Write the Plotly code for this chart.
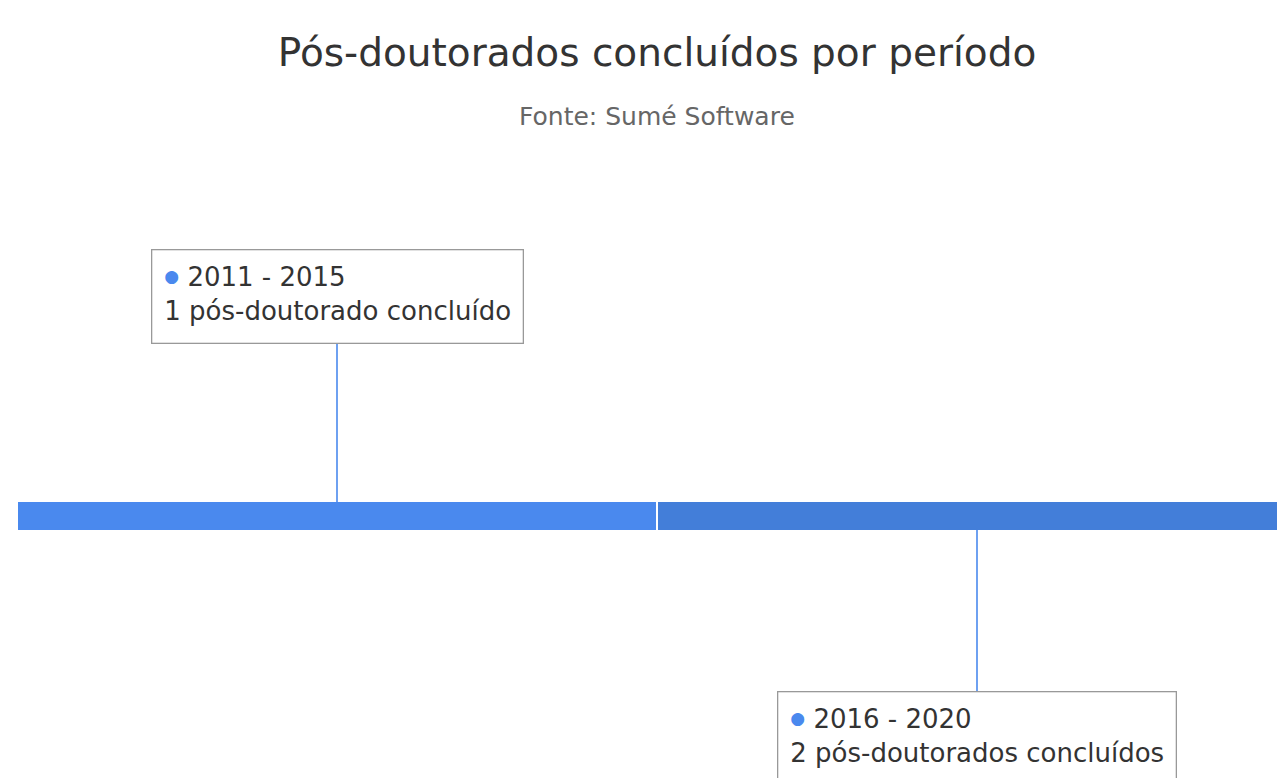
import plotly.graph_objects as go

periods = ["2011 - 2015", "2016 - 2020"]
counts = [1, 2]
descriptions = ["1 pós-doutorado concluído", "2 pós-doutorados concluídos"]
colors = ["#4a89ee", "#437ed9"]
sides = [1, -1]  # label above (1) or below (-1)

FONT = "DejaVu Sans"
W, H = 1277, 778

pos = list(range(len(periods)))
fig = go.Figure()

# timeline segments
fig.add_trace(go.Bar(
    y=[0] * len(pos), x=[0.997] * len(pos), base=[p - 0.4985 for p in pos],
    orientation="h", width=28, marker=dict(color=colors, line=dict(width=0)),
    hoverinfo="skip", showlegend=False,
))

# connectors
for p, s in zip(pos, sides):
    fig.add_trace(go.Scatter(
        x=[p, p], y=[14, 173] if s > 0 else [-14, -176], mode="lines",
        line=dict(color="#4a89ee", width=1.6), hoverinfo="skip", showlegend=False,
    ))

for p, s, per, d in zip(pos, sides, periods, descriptions):
    fig.add_annotation(
        x=p, y=172 if s > 0 else -175, xref="x", yref="y",
        xanchor="center", yanchor="bottom" if s > 0 else "top",
        text=(f"<span style='color:#4a89ee;font-size:17px;baseline-shift:4px'>●</span>"
              f" {per}<br>{d}"),
        showarrow=False, align="left", valign="top", height=68,
        bordercolor="#999999", borderwidth=1.3, borderpad=12, bgcolor="white",
        font=dict(family=FONT, size=26, color="#333333"),
    )

fig.add_annotation(
    text="Fonte: Sumé Software", xref="paper", yref="paper",
    x=0.5145, y=1 - 117 / H, xanchor="center", yanchor="middle",
    showarrow=False, font=dict(family=FONT, size=25, color="#666666"),
)

fig.update_layout(
    width=W, height=H,
    margin=dict(l=0, r=0, t=0, b=0),
    paper_bgcolor="white", plot_bgcolor="white",
    title=dict(text="Pós-doutorados concluídos por período", x=0.5145, xanchor="center",
               y=1 - 52 / H, yanchor="middle", yref="container",
               font=dict(family=FONT, size=39, color="#333333")),
    xaxis=dict(range=[-337 / 640, (W - 337) / 640], visible=False, fixedrange=True),
    yaxis=dict(range=[-(H - 516), 516], visible=False, fixedrange=True),
    bargap=0,
)

fig.write_html(
    "out.html",
    config={"displayModeBar": False},
    post_script="document.body.style.margin='0';document.body.style.overflow='hidden';",
)
